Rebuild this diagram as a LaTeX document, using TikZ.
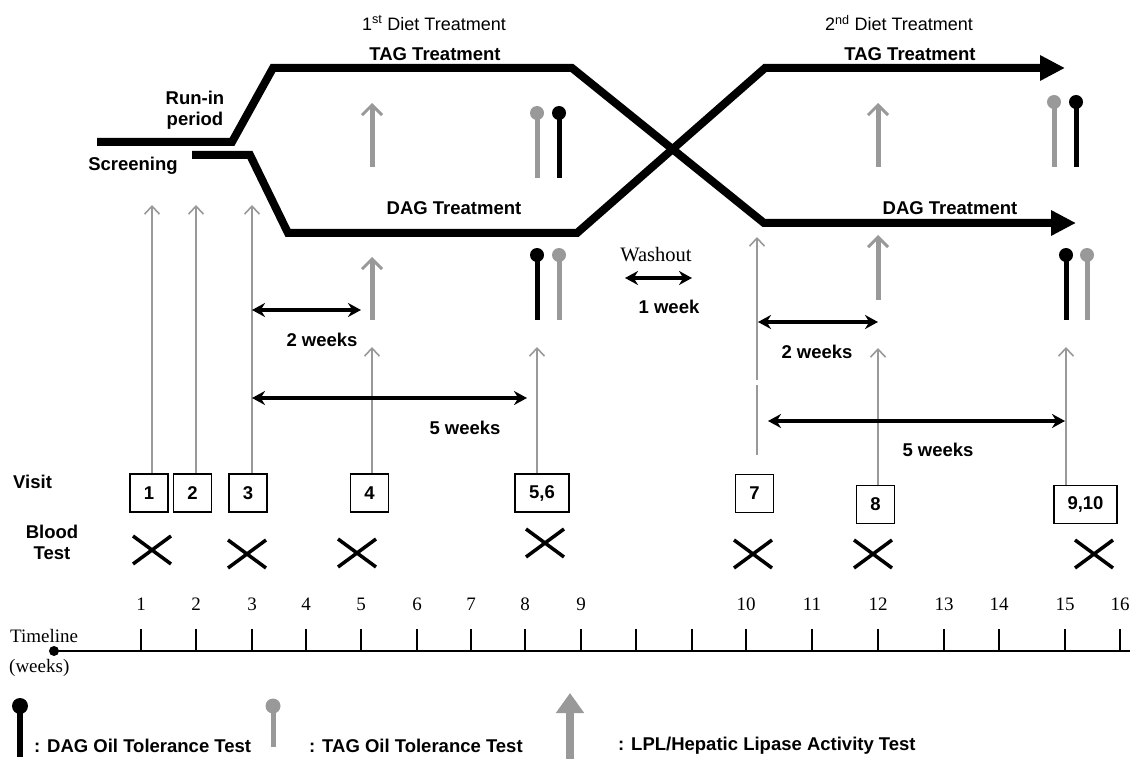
\documentclass[tikz,border=0pt]{standalone}
\usepackage{fontspec}
\setmainfont{Liberation Sans}
\newfontfamily\serifnum{Liberation Serif}
\usetikzlibrary{arrows.meta}

\begin{document}
\begin{tikzpicture}[x=1pt, y=-1pt,
    lbl/.style={font=\fontsize{18.5}{21}\selectfont\bfseries, inner sep=0pt, align=center},
    title/.style={font=\fontsize{18}{21}\selectfont, inner sep=0pt},
    ser/.style={font=\serifnum\fontsize{19}{21}\selectfont, inner sep=0pt},
    visitbox/.style={draw, line width=1.4pt, minimum width=38pt, minimum height=38pt,
                     inner sep=0pt, font=\fontsize{18.5}{20}\selectfont\bfseries},
    track/.style={line width=8pt, -{Triangle[length=25pt,width=24pt]}},
    visitarrow/.style={black!40, line width=1.6pt, -{Straight Barb[length=8pt,width=15pt]}},
    lpl/.style={black!40, line width=5pt, -{Straight Barb[length=10pt,width=20pt,line width=3pt]}},
    span/.style={line width=4pt, {Stealth[length=13pt,width=14pt]}-{Stealth[length=13pt,width=14pt]}},
    xmark/.style={line width=3.5pt},
    lolly/.style={line width=5pt}]
  \useasboundingbox (0,0) rectangle (1130,759);

  % titles and treatment labels
  \node[title] (diet1) at (434,23) {1\textsuperscript{st} Diet Treatment};
  \node[title] (diet2) at (899,23) {2\textsuperscript{nd} Diet Treatment};
  \node[lbl] (tag1) at (435,54) {TAG Treatment};
  \node[lbl] (tag2) at (910,54) {TAG Treatment};
  \node[lbl] (dag1) at (454,208) {DAG Treatment};
  \node[lbl] (dag2) at (950,208) {DAG Treatment};
  \node[lbl] (runin) at (195,110) {Run-in\\period};
  \node[lbl] (screen) at (133,166) {Screening};

  % treatment tracks (crossover)
  \draw[track] (97,142) -- (232,142) -- (273,68) -- (572,68) -- (764,223) -- (1076,223);
  \draw[track] (192,155) -- (250,155) -- (288,233) -- (577,233) -- (765,68) -- (1065,68);

  % oil tolerance tests
  \foreach \x/\t/\b/\c in {537/113/178/black!40, 559/113/178/black,
                           537/255/320/black, 559/255/320/black!40,
                           1054/102/167/black!40, 1076/102/167/black,
                           1066/255/320/black, 1087/255/320/black!40} {
    \draw[lolly, \c] (\x,\b) -- (\x,\t);
    \fill[\c] (\x,\t) circle (7pt);
  }

  % lipase activity tests
  \foreach \x/\b/\t in {372/167/103, 878/167/103, 372/320/257, 878/300/235}
    \draw[lpl] (\x,\b) -- (\x,\t);

  % visits
  \node[lbl, anchor=west] (visit) at (13,482) {Visit};
  \node[visitbox] (v1) at (149,493) {1};
  \node[visitbox] (v2) at (192.5,493) {2};
  \node[visitbox] (v3) at (248,493) {3};
  \node[visitbox] (v4) at (369.5,493) {4};
  \node[visitbox, minimum width=54pt] (v56) at (542,493) {5,6};
  \node[visitbox] (v7) at (754.5,493.5) {7};
  \node[visitbox] (v8) at (875.5,504.5) {8};
  \node[visitbox, minimum width=63pt] (v910) at (1085.5,504.5) {9,10};

  \coordinate (a1) at (152,205);
  \coordinate (a2) at (196,205);
  \coordinate (a3) at (252,205);
  \coordinate (a4) at (372,347);
  \coordinate (a56) at (537,347);
  \coordinate (a8) at (878,348);
  \coordinate (a910) at (1066,347);
  \foreach \v in {1,2,3,4,56,8,910}
    \draw[visitarrow] (v\v.north -| a\v) -- (a\v);
  \coordinate (a7) at (757,237);
  \coordinate (a7lo) at (757,455);
  \coordinate (a7gap) at (757,385);
  \coordinate (a7up) at (757,380);
  \draw[visitarrow, -] (a7lo) -- (a7gap);
  \draw[visitarrow] (a7up) -- (a7);

  % durations
  \coordinate (s1a) at (252,310);  \coordinate (s1b) at (361,310);
  \coordinate (s2a) at (252,398);  \coordinate (s2b) at (527,398);
  \coordinate (s3a) at (625,278);  \coordinate (s3b) at (692,278);
  \coordinate (s4a) at (758,322);  \coordinate (s4b) at (878,322);
  \coordinate (s5a) at (768,421);  \coordinate (s5b) at (1065,421);
  \foreach \s in {1,...,5}
    \draw[span] (s\s a) -- (s\s b);
  \node[lbl] (wk2a) at (322,340) {2 weeks};
  \node[lbl] (wk5a) at (465,428) {5 weeks};
  \node[ser, font=\serifnum\fontsize{20.5}{23}\selectfont] (wash) at (656,255) {Washout};
  \node[lbl] (wk1) at (669,307) {1 week};
  \node[lbl] (wk2b) at (817,352) {2 weeks};
  \node[lbl] (wk5b) at (938,450) {5 weeks};

  % blood tests
  \node[lbl] (blood) at (52,542) {Blood\\Test};
  \foreach \x/\y in {152/550, 247/554, 357/553, 545/543, 753/554, 873/554, 1094/554}
    \draw[xmark] (\x-19,\y-14) -- (\x+19,\y+14) (\x-19,\y+14) -- (\x+19,\y-14);

  % timeline
  \node[ser, anchor=west] (tl) at (10,636) {Timeline};
  \node[ser, anchor=west] (tlw) at (9,668) {(weeks)};
  \node[circle, fill, inner sep=0pt, minimum size=10pt] (orig) at (54,651) {};
  \coordinate (tend) at (1130,651);
  \draw[line width=1.8pt] (orig.center) -- (tend);
  \foreach \x/\n in {141/1, 196/2, 252/3, 306/4, 361/5, 417/6, 471/7, 525/8, 581/9,
                     746/10, 812/11, 878/12, 944/13, 999/14, 1065/15, 1120/16} {
    \draw[line width=1.4pt] (\x,629) -- (\x,651);
    \node[ser] (wk\n) at (\x,604) {\n};
  }
  \foreach \x in {636,692}
    \draw[line width=1.4pt] (\x,629) -- (\x,651);

  % legend
  \draw[line width=6pt] (20,757) -- (20,706);
  \fill (20,706) circle (8pt);
  \node[lbl, anchor=west] (legdag) at (34,746) {: DAG Oil Tolerance Test};
  \draw[line width=5pt, black!40] (273,747) -- (273,706);
  \fill[black!40] (273,706) circle (7.5pt);
  \node[lbl, anchor=west] (legtag) at (309,746) {: TAG Oil Tolerance Test};
  \draw[black!40, line width=8pt, -{Triangle[length=20pt,width=27pt]}] (570,759) -- (570,693);
  \node[lbl, anchor=west] (leglpl) at (618,746) {: LPL/Hepatic Lipase Activity Test};
\end{tikzpicture}
\end{document}
